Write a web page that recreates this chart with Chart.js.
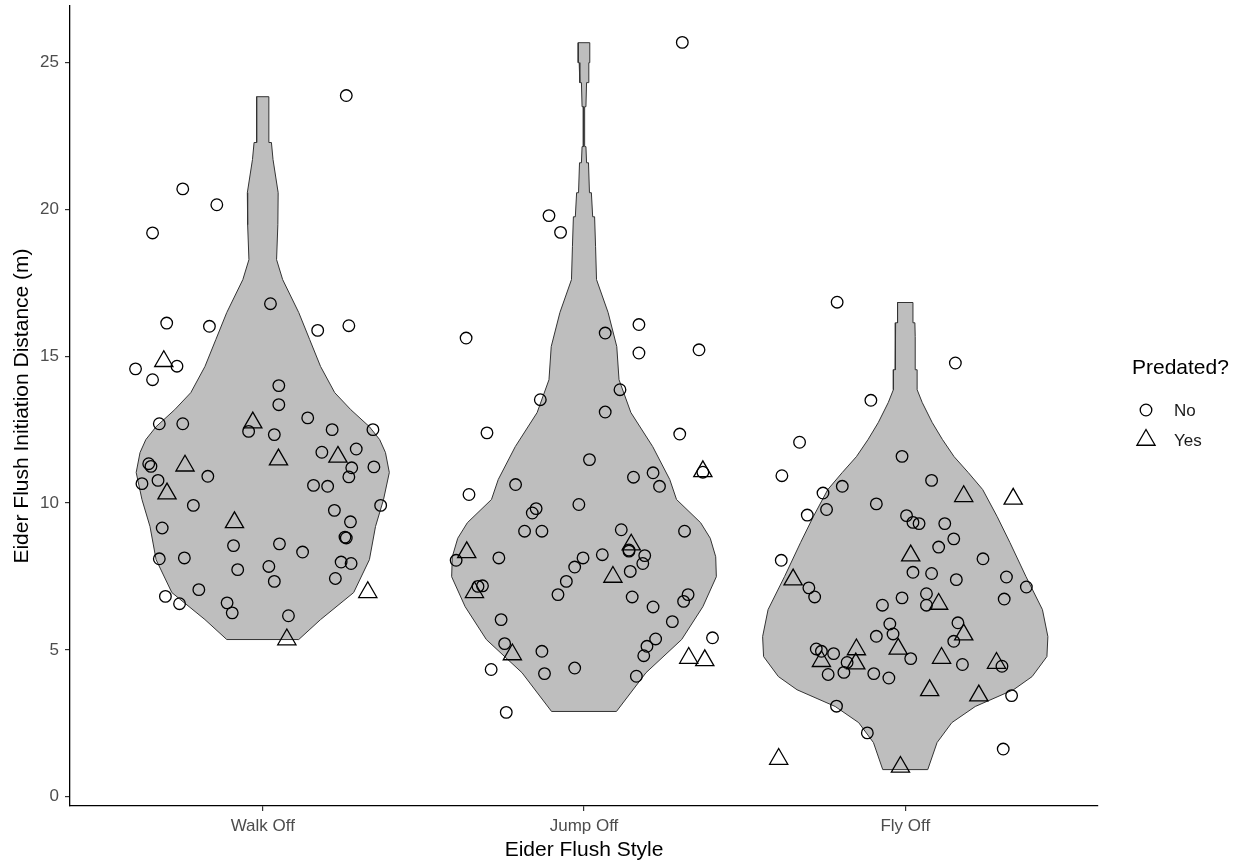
<!DOCTYPE html>
<html>
<head>
<meta charset="utf-8">
<title>Eider Flush Style</title>
<script src="https://cdn.jsdelivr.net/npm/chart.js@4.4.0/dist/chart.umd.min.js"></script>
<style>
  html, body { margin: 0; padding: 0; background: #fff; }
  #wrap { width: 1241px; height: 865px; }
</style>
</head>
<body>
<div id="wrap"><canvas id="chart" width="1241" height="865"></canvas></div>
<script>
// categories and ticks
const categories = ['Walk Off', 'Jump Off', 'Fly Off'];
const yTicks = [0, 5, 10, 15, 20, 25];
const legendTitle = 'Predated?';
const legendLabels = ['No', 'Yes'];

// violin outlines: distance levels and half width (in category units)
const walkLevels = [5.35, 6.03, 6.95, 8.07, 9.20, 10.12, 11.04, 11.72, 12.16, 12.60, 13.18, 13.76, 14.65, 15.57, 16.49, 17.61, 18.29, 19.48, 20.57, 21.70, 22.28, 22.28, 23.84];
const walkHalf = [0.112, 0.180, 0.283, 0.332, 0.351, 0.376, 0.394, 0.382, 0.364, 0.332, 0.274, 0.224, 0.180, 0.146, 0.112, 0.062, 0.043, 0.047, 0.048, 0.032, 0.027, 0.019, 0.019];

const jumpLevels = [2.90, 4.22, 5.35, 6.47, 7.49, 8.17, 8.80, 9.33, 10.12, 10.80, 11.92, 13.08, 14.20, 15.33, 16.49, 17.61, 18.73, 19.75, 19.75, 20.57, 20.57, 21.59, 21.59, 22.14, 22.14, 23.50, 23.50, 24.32, 24.32, 25.00, 25.00, 25.68];
const jumpHalf = [0.101, 0.193, 0.304, 0.370, 0.412, 0.410, 0.393, 0.363, 0.288, 0.267, 0.214, 0.146, 0.109, 0.102, 0.075, 0.039, 0.036, 0.033, 0.027, 0.023, 0.017, 0.014, 0.008, 0.006, 0.002, 0.002, 0.006, 0.008, 0.013, 0.015, 0.018, 0.018];

const flyLevels = [0.92, 1.84, 2.52, 3.07, 3.64, 4.09, 4.77, 5.45, 6.37, 7.49, 8.65, 9.54, 10.46, 11.04, 11.58, 12.16, 12.74, 13.42, 13.86, 14.54, 14.54, 15.67, 16.14, 16.14, 16.83];
const flyHalf = [0.070, 0.099, 0.145, 0.218, 0.337, 0.395, 0.441, 0.444, 0.427, 0.376, 0.326, 0.286, 0.241, 0.196, 0.152, 0.116, 0.084, 0.053, 0.037, 0.037, 0.031, 0.031, 0.030, 0.024, 0.024];

// points: jitter offset from category centre and distance (m)
const walkNoX = [0.260, -0.249, -0.143, -0.343, 0.024, -0.299, -0.166, 0.171, 0.268, -0.396, -0.343, -0.267, 0.050, 0.050, -0.322, -0.249, -0.044, 0.036, 0.140, 0.216, 0.343, -0.355, -0.348, -0.326, -0.376, -0.171, 0.184, 0.291, 0.277, 0.268, 0.346, 0.158, 0.202, -0.216, 0.367, 0.223, 0.273, 0.260, 0.256, -0.313, -0.091, 0.052, 0.124, -0.322, -0.244, -0.078, 0.019, 0.036, 0.244, 0.275, 0.226, -0.199, -0.303, -0.259, -0.111, -0.095, 0.080];
const walkNoY = [23.88, 20.70, 20.16, 19.20, 16.79, 16.13, 16.02, 15.88, 16.04, 14.57, 14.20, 14.66, 14.00, 13.35, 12.70, 12.70, 12.44, 12.33, 12.90, 12.50, 12.50, 11.34, 11.25, 10.77, 10.66, 10.91, 11.73, 11.84, 11.20, 10.89, 11.23, 10.60, 10.57, 9.92, 9.92, 9.75, 9.36, 8.81, 8.84, 9.15, 8.55, 8.61, 8.33, 8.10, 8.13, 7.73, 7.84, 7.33, 7.99, 7.94, 7.43, 7.05, 6.82, 6.57, 6.60, 6.26, 6.16];
const walkYesX = [-0.308, -0.031, -0.242, 0.049, -0.298, 0.234, -0.088, 0.327, 0.075];
const walkYesY = [14.83, 12.74, 11.27, 11.48, 10.32, 11.57, 9.34, 6.96, 5.35];

const jumpNoX = [0.306, -0.109, -0.073, -0.367, 0.066, 0.171, 0.171, 0.358, 0.112, -0.136, 0.066, -0.302, 0.298, 0.017, 0.154, 0.215, 0.235, -0.213, -0.358, 0.370, -0.161, -0.149, -0.016, -0.185, -0.131, 0.116, 0.313, -0.398, -0.265, -0.003, -0.029, 0.057, 0.140, 0.140, 0.189, 0.183, 0.144, -0.055, -0.081, -0.330, -0.316, 0.150, 0.215, 0.324, 0.310, -0.258, 0.275, -0.247, -0.131, 0.223, 0.196, 0.186, 0.400, -0.289, -0.123, -0.029, 0.163, -0.242];
const jumpNoY = [25.69, 19.79, 19.22, 15.62, 15.79, 16.08, 15.11, 15.22, 13.86, 13.52, 13.10, 12.39, 12.35, 11.48, 10.88, 11.03, 10.57, 10.63, 10.29, 11.05, 9.66, 9.81, 9.95, 9.04, 9.04, 9.09, 9.04, 8.05, 8.13, 8.13, 7.82, 8.24, 8.36, 8.40, 8.21, 7.94, 7.67, 7.33, 6.88, 7.16, 7.18, 6.80, 6.46, 6.88, 6.65, 6.03, 5.96, 5.21, 4.95, 5.37, 5.12, 4.80, 5.41, 4.33, 4.19, 4.38, 4.10, 2.87];
const jumpYesX = [0.370, -0.365, -0.341, 0.147, 0.090, -0.223, 0.326, 0.376];
const jumpYesY = [11.08, 8.32, 6.96, 8.58, 7.48, 4.84, 4.72, 4.64];

const flyNoX = [-0.212, 0.156, -0.107, -0.329, -0.384, -0.010, 0.082, -0.196, -0.256, -0.245, -0.090, -0.305, 0.004, 0.024, 0.043, 0.123, 0.151, 0.104, 0.242, -0.386, 0.024, 0.082, 0.159, 0.315, 0.377, -0.300, -0.282, -0.010, -0.071, 0.066, 0.066, 0.308, -0.048, -0.038, -0.090, 0.164, 0.151, -0.277, -0.261, -0.223, -0.181, 0.017, 0.178, 0.301, -0.240, -0.191, -0.098, -0.051, 0.331, -0.214, -0.118, 0.305];
const flyNoY = [16.84, 14.77, 13.50, 12.07, 10.93, 11.59, 10.77, 10.57, 10.34, 9.78, 9.97, 9.59, 9.57, 9.34, 9.30, 9.30, 8.78, 8.50, 8.10, 8.05, 7.64, 7.60, 7.39, 7.48, 7.14, 7.11, 6.80, 6.77, 6.52, 6.91, 6.52, 6.73, 5.88, 5.54, 5.46, 5.92, 5.29, 5.03, 4.95, 4.87, 4.57, 4.70, 4.50, 4.44, 4.16, 4.23, 4.19, 4.04, 3.44, 3.08, 2.17, 1.62];
const flyYesX = [0.182, 0.336, -0.349, 0.017, 0.104, 0.182, -0.152, -0.261, -0.154, -0.022, 0.113, 0.284, 0.076, 0.229, -0.394, -0.015];
const flyYesY = [10.23, 10.14, 7.39, 8.21, 6.56, 5.52, 5.01, 4.61, 4.53, 5.03, 4.72, 4.55, 3.62, 3.44, 1.28, 1.01];

const FONT = '"Liberation Sans", Arial, sans-serif';
Chart.defaults.font.family = FONT;

// polygon for one violin: up the right side, down the left side
function violinShape(pos, levels, half) {
  const right = levels.map((v, i) => ({ x: pos + half[i], y: v }));
  const left = levels.map((v, i) => ({ x: pos - half[i], y: v })).reverse();
  return right.concat(left, [right[0]]);
}

function jitter(pos, dx, ys) {
  return ys.map((v, i) => ({ x: pos + dx[i], y: v }));
}

const violinStyle = {
  showLine: true,
  fill: 'shape',
  backgroundColor: '#bebebe',
  borderColor: '#333333',
  borderWidth: 1,
  pointRadius: 0,
  pointHoverRadius: 0,
  tension: 0,
  order: 2
};

const noPoints = [].concat(
  jitter(1, walkNoX, walkNoY),
  jitter(2, jumpNoX, jumpNoY),
  jitter(3, flyNoX, flyNoY)
);
const yesPoints = [].concat(
  jitter(1, walkYesX, walkYesY),
  jitter(2, jumpYesX, jumpYesY),
  jitter(3, flyYesX, flyYesY)
);

const pointSets = [
  { label: legendLabels[0], data: noPoints, pointStyle: 'circle', pointRadius: 5.8 },
  { label: legendLabels[1], data: yesPoints, pointStyle: 'triangle', pointRadius: 10.5 }
];

// side legend like the ggplot one
const sideLegend = {
  id: 'sideLegend',
  afterDraw(chart) {
    const ctx = chart.ctx;
    ctx.save();
    ctx.textBaseline = 'middle';
    ctx.textAlign = 'left';
    ctx.fillStyle = '#000';
    ctx.font = '21px ' + FONT;
    ctx.fillText(legendTitle, 1132, 368);
    const rows = [410, 440];
    pointSets.forEach((p, i) => {
      ctx.strokeStyle = '#000';
      ctx.fillStyle = 'rgba(0,0,0,0)';
      ctx.lineWidth = 1.3;
      Chart.helpers.drawPoint(ctx, { pointStyle: p.pointStyle, radius: p.pointRadius, borderWidth: 1.3, rotation: 0 }, 1146, rows[i]);
      ctx.fillStyle = '#1a1a1a';
      ctx.font = '17px ' + FONT;
      ctx.fillText(p.label, 1174, rows[i] + 1);
    });
    ctx.restore();
  }
};

new Chart(document.getElementById('chart'), {
  type: 'scatter',
  data: {
    datasets: [
      Object.assign({ label: categories[0], data: violinShape(1, walkLevels, walkHalf) }, violinStyle),
      Object.assign({ label: categories[1], data: violinShape(2, jumpLevels, jumpHalf) }, violinStyle),
      Object.assign({ label: categories[2], data: violinShape(3, flyLevels, flyHalf) }, violinStyle)
    ].concat(pointSets.map(p => ({
      label: p.label,
      data: p.data,
      pointStyle: p.pointStyle,
      pointRadius: p.pointRadius,
      pointHoverRadius: p.pointRadius,
      borderColor: '#000',
      backgroundColor: 'rgba(0,0,0,0)',
      pointBorderWidth: 1.3,
      showLine: false,
      clip: false,
      order: 1
    })))
  },
  options: {
    responsive: false,
    animation: false,
    devicePixelRatio: 1,
    layout: { autoPadding: false, padding: { top: 6, right: 143, bottom: 0, left: 0 } },
    plugins: {
      legend: { display: false },
      tooltip: { enabled: false }
    },
    scales: {
      x: {
        type: 'linear',
        min: 0.4,
        max: 3.6,
        afterBuildTicks: s => { s.ticks = categories.map((c, i) => ({ value: i + 1 })); },
        afterFit: s => { s.height = 59; s.paddingLeft = 0; s.paddingRight = 0; },
        ticks: {
          callback: v => categories[Math.round(v) - 1],
          color: '#4d4d4d',
          font: { size: 17 },
          padding: 5,
          autoSkip: false,
          maxRotation: 0
        },
        grid: { drawOnChartArea: false, drawTicks: true, tickLength: 5, color: '#333', lineWidth: 1.2 },
        border: { display: true, color: '#000', width: 1.3 },
        title: { display: true, text: 'Eider Flush Style', color: '#000', font: { size: 21 }, padding: { top: 0, bottom: 2 } }
      },
      y: {
        type: 'linear',
        min: -0.32,
        max: 26.93,
        afterBuildTicks: s => { s.ticks = yTicks.map(v => ({ value: v })); },
        afterFit: s => { s.width = 70; s.paddingTop = 0; s.paddingBottom = 0; },
        ticks: { color: '#4d4d4d', font: { size: 17 }, padding: 6 },
        grid: { drawOnChartArea: false, drawTicks: true, tickLength: 5, color: '#333', lineWidth: 1.2 },
        border: { display: true, color: '#000', width: 1.3 },
        title: { display: true, text: 'Eider Flush Initiation Distance (m)', color: '#000', font: { size: 21 }, padding: { top: 10, bottom: 0 } }
      }
    }
  },
  plugins: [sideLegend]
});
</script>
</body>
</html>
